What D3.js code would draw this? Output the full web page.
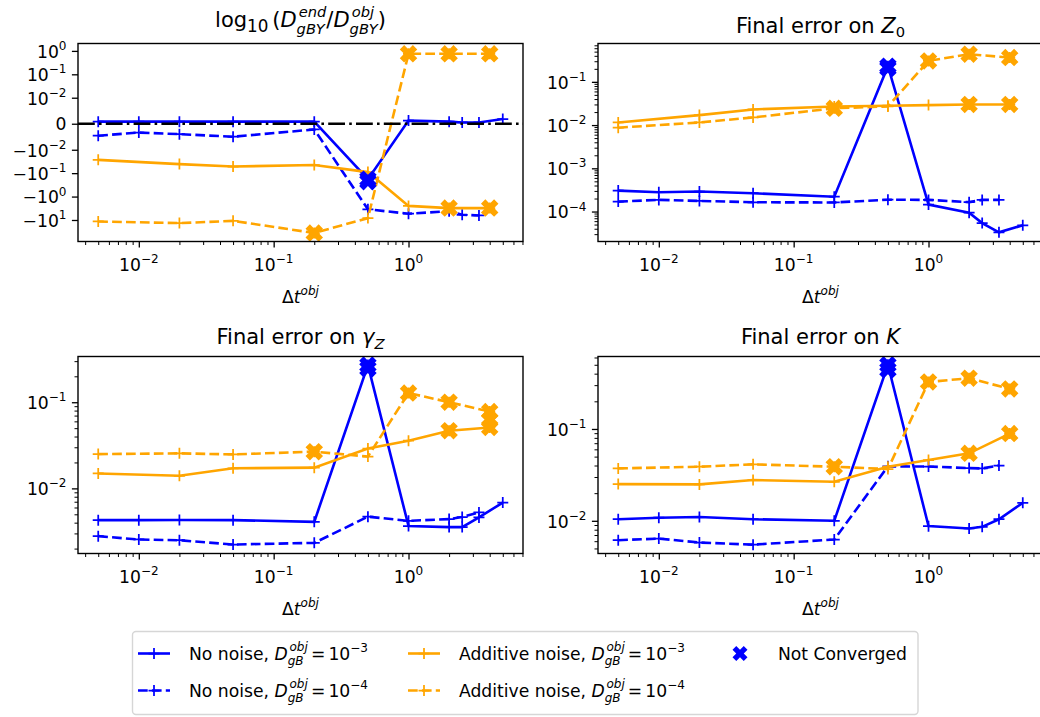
<!DOCTYPE html>
<html>
<head>
<meta charset="utf-8">
<script src="https://cdn.jsdelivr.net/npm/d3@7"></script>
<style>
  body { margin: 0; background: #fff; }
  svg { display: block; }
  text { font-family: "DejaVu Sans", sans-serif; fill: #000; white-space: pre; }
</style>
</head>
<body>
<svg id="chart" width="1040" height="717"></svg>
<script>
// ---- time steps of each run family ----
const dtNoNoise3   = [0.005, 0.01, 0.02, 0.05, 0.2, 0.5, 1, 2, 2.5, 3.33, 5];
const dtNoNoise4   = [0.005, 0.01, 0.02, 0.05, 0.2, 0.5, 1, 2, 2.5, 3.33];
const dtAdditive3  = [0.005, 0.02, 0.05, 0.2, 0.5, 1, 2, 4];
const dtAdditive4  = [0.005, 0.02, 0.05, 0.2, 0.5, 1, 2, 4];

// time steps at which the optimisation did not converge
const ncNoNoise3  = [0.5];
const ncNoNoise4  = [];
const ncAdditive3 = [2, 4];
const ncAdditive4 = [0.2, 1, 2, 4];

// ---- log10(D_end / D_obj) ----
const ratioNoNoise3  = [0.0008, 0.0008, 0.0008, 0.0008, 0.0008, -0.18, 0.0012, 0.0008, 0.0005, 0.0005, 0.0018];
const ratioNoNoise4  = [-0.0046, -0.0034, -0.004, -0.005, -0.0022, -3.5, -5.4, -4.2, -6.0, -6.4];
const ratioAdditive3 = [-0.027, -0.041, -0.052, -0.045, -0.09, -2.5, -3.1, -3.1];
const ratioAdditive4 = [-11.6, -13.6, -10.9, -36, -8.3, 0.75, 0.75, 0.75];
const ratioExtraNC   = [[0.5, -0.23, 0]];   // [dt, value, family]

// ---- final error on Z0 ----
const z0NoNoise3  = [3.05e-4, 2.8e-4, 2.9e-4, 2.65e-4, 2.2e-4, 0.23, 1.45e-4, 9.4e-5, 5.4e-5, 3.3e-5, 4.8e-5];
const z0NoNoise4  = [1.7e-4, 1.86e-4, 1.76e-4, 1.64e-4, 1.62e-4, 1.88e-4, 1.86e-4, 1.65e-4, 1.86e-4, 1.86e-4];
const z0Additive3 = [0.0115, 0.017, 0.023, 0.027, 0.028, 0.029, 0.030, 0.030];
const z0Additive4 = [0.0087, 0.0115, 0.015, 0.0245, 0.027, 0.305, 0.435, 0.365];
const z0ExtraNC   = [[0.5, 0.205, 0]];

// ---- final error on gamma_Z ----
const gammaNoNoise3  = [4.28e-3, 4.28e-3, 4.3e-3, 4.28e-3, 4.09e-3, 0.27, 3.65e-3, 3.55e-3, 3.55e-3, 4.6e-3, 6.85e-3];
const gammaNoNoise4  = [2.79e-3, 2.55e-3, 2.5e-3, 2.23e-3, 2.33e-3, 4.69e-3, 4.2e-3, 4.4e-3, 4.65e-3, 5.25e-3];
const gammaAdditive3 = [0.0149, 0.014, 0.0171, 0.0174, 0.029, 0.0358, 0.0467, 0.051];
const gammaAdditive4 = [0.025, 0.0255, 0.0248, 0.0267, 0.0234, 0.128, 0.1, 0.078];
const gammaExtraNC   = [[0.5, 0.245, 0], [4, 0.062, 2]];

// ---- final error on K ----
const kNoNoise3  = [0.0104, 0.0108, 0.011, 0.0104, 0.010, 0.50, 8.75e-3, 8.25e-3, 8.6e-3, 0.0104, 0.0157];
const kNoNoise4  = [6.15e-3, 6.4e-3, 5.8e-3, 5.5e-3, 6.25e-3, 0.0392, 0.039, 0.0375, 0.0372, 0.040];
const kAdditive3 = [0.0251, 0.0249, 0.0278, 0.0266, 0.0388, 0.0459, 0.0543, 0.089];
const kAdditive4 = [0.0372, 0.0388, 0.0412, 0.0388, 0.0366, 0.325, 0.357, 0.273];
const kExtraNC   = [[0.5, 0.44, 0]];

// ---- axis limits and ticks ----
const xLimits = [Math.pow(10, -2.451), Math.pow(10, 0.849)];
const xTicks = [0.01, 0.1, 1];
const ratioLimits = [-83, 2.07];
const ratioTicks = [1, 0.1, 0.01, 0, -0.01, -0.1, -1, -10];
const z0Limits = [Math.pow(10, -4.693), Math.pow(10, -0.113)];
const z0Ticks = [1e-1, 1e-2, 1e-3, 1e-4];
const gammaLimits = [Math.pow(10, -2.756), Math.pow(10, -0.469)];
const gammaTicks = [1e-1, 1e-2];
const kLimits = [Math.pow(10, -2.356), Math.pow(10, -0.211)];
const kTicks = [1e-1, 1e-2];

// ---- legend text ----
const familyNames = ['No noise', 'No noise', 'Additive noise', 'Additive noise'];
const familyExponents = ['−3', '−4', '−3', '−4'];
const notConvergedLabel = 'Not Converged';

// ---------------------------------------------------------------
const svg = d3.select('#chart');
const FS_TICK = 17.2, FS_TITLE = 21;
const LW = 2.6;
const colors = ['#0000ff', '#0000ff', '#ffa500', '#ffa500'];
const dashed = [false, true, false, true];
const DASH = '9.7,4.2';
const DASHDOT = '16.8,4.2,2.6,4.2';
const MAJOR = 6.1, MINOR = 3.5;

const families = [dtNoNoise3, dtNoNoise4, dtAdditive3, dtAdditive4];
const ncSets = [ncNoNoise3, ncNoNoise4, ncAdditive3, ncAdditive4];

// Lays out a small piece of math-style text: upright/italic runs,
// superscripts, subscripts and stacked super/subscripts.
function mathText(parent, x, y, pieces, fs, anchor) {
  const g = parent.append('g');
  let cx = 0;
  const put = (s, px, dy, size, it) => {
    const t = g.append('text')
      .attr('x', px).attr('y', dy)
      .attr('font-size', size)
      .attr('font-style', it ? 'italic' : 'normal')
      .text(s);
    return t.node().getComputedTextLength();
  };
  for (const p of pieces) {
    if (p.gap !== undefined) { cx += p.gap * fs; continue; }
    const hasSup = p.sup !== undefined, hasSub = p.sub !== undefined;
    if (hasSup || hasSub) {
      const k = (p.k || 0.7) * fs;
      let w = 0;
      if (hasSup) w = Math.max(w, (p.supShift || 0) * fs +
        put(p.sup, cx + (p.supShift || 0) * fs, -(hasSub ? 0.5 : 0.45) * fs, k, p.it));
      if (hasSub) w = Math.max(w, put(p.sub, cx, (p.subDy || (hasSup ? 0.3 : 0.22)) * fs, k, p.it));
      cx += w;
    } else {
      cx += put(p.t, cx, 0, fs, p.it);
    }
  }
  const shift = anchor === 'middle' ? -cx / 2 : anchor === 'end' ? -cx : 0;
  g.attr('transform', `translate(${x + shift},${y})`);
  return g;
}

function powLabel(v) {
  if (v === 0) return [{ t: '0' }];
  const e = Math.round(Math.log10(Math.abs(v)));
  const es = e < 0 ? '−' + (-e) : String(e);
  return [{ t: v < 0 ? '−10' : '10' }, { sup: es }];
}

// filled "X" marker outline (unit cross scaled to the marker size)
const xUnit = [[-1,-2],[0,-1],[1,-2],[2,-1],[1,0],[2,1],[1,2],[0,1],[-1,2],[-2,1],[-1,0],[-2,-1]];
function xMarkerPath(size) {
  const s = size / 4;
  return d3.line()(xUnit.map(([a, b]) => [a * s, b * s])) + 'Z';
}
const PLUS = 'M-5.5,0H5.5M0,-5.5V5.5';

// symmetric-log transform (linear threshold 1e-2)
const LINTHRESH = 0.01, LINSCALE_ADJ = 1 / (1 - 0.1);
const symT = v => Math.abs(v) <= LINTHRESH
  ? v / LINTHRESH * LINSCALE_ADJ
  : Math.sign(v) * (LINSCALE_ADJ + Math.log10(Math.abs(v) / LINTHRESH));

const colX = [[78, 523], [598, 1043]];
const rowY = [[43.5, 241.5], [356.5, 553.5]];

const panels = [
  { col: 0, row: 0, kind: 'symlog', limits: ratioLimits, ticks: ratioTicks,
    series: [ratioNoNoise3, ratioNoNoise4, ratioAdditive3, ratioAdditive4], extra: ratioExtraNC,
    zeroLine: true, titleY: 27.2,
    title: [{ t: 'log' }, { sub: '10', k: 0.8, subDy: 0.24 }, { gap: 0.18 }, { t: '(' }, { t: 'D', it: true },
            { sup: 'end', sub: 'gBY', it: true, supShift: 0.1 }, { t: '/' }, { t: 'D', it: true },
            { sup: 'obj', sub: 'gBY', it: true, supShift: 0.1 }, { t: ')' }] },
  { col: 1, row: 0, kind: 'log', limits: z0Limits, ticks: z0Ticks,
    series: [z0NoNoise3, z0NoNoise4, z0Additive3, z0Additive4], extra: z0ExtraNC, titleY: 32.7,
    title: [{ t: 'Final error on ' }, { t: 'Z', it: true }, { sub: '0' }] },
  { col: 0, row: 1, kind: 'log', limits: gammaLimits, ticks: gammaTicks,
    series: [gammaNoNoise3, gammaNoNoise4, gammaAdditive3, gammaAdditive4], extra: gammaExtraNC, titleY: 344.3,
    title: [{ t: 'Final error on ' }, { t: 'γ', it: true }, { sub: 'Z', it: true }] },
  { col: 1, row: 1, kind: 'log', limits: kLimits, ticks: kTicks,
    series: [kNoNoise3, kNoNoise4, kAdditive3, kAdditive4], extra: kExtraNC, titleY: 344.3,
    title: [{ t: 'Final error on ' }, { t: 'K', it: true }] }
];

function minorLogTicks(lim) {
  const out = [];
  const lo = Math.floor(Math.log10(lim[0])), hi = Math.ceil(Math.log10(lim[1]));
  for (let e = lo; e <= hi; e++)
    for (let m = 2; m <= 9; m++) {
      const v = m * Math.pow(10, e);
      if (v >= lim[0] && v <= lim[1]) out.push(v);
    }
  return out;
}

function styleAxis(g, width) {
  g.select('.domain').remove();
  g.selectAll('line').attr('stroke', '#000').attr('stroke-width', width);
  g.selectAll('text').remove();
}

panels.forEach((p, i) => {
  const [x0, x1] = colX[p.col];
  const [y0, y1] = rowY[p.row];
  const g = svg.append('g');
  const clipId = 'clip' + i;
  g.append('clipPath').attr('id', clipId)
    .append('rect').attr('x', x0).attr('y', y0).attr('width', x1 - x0).attr('height', y1 - y0);

  const x = d3.scaleLog().domain(xLimits).range([x0, x1]);
  let yAxisScale, y, yTickVals;
  if (p.kind === 'symlog') {
    yAxisScale = d3.scaleLinear().domain([symT(p.limits[0]), symT(p.limits[1])]).range([y1, y0]);
    y = v => yAxisScale(symT(v));
    yTickVals = p.ticks.map(symT);
  } else {
    yAxisScale = d3.scaleLog().domain(p.limits).range([y1, y0]);
    y = yAxisScale;
    yTickVals = p.ticks;
  }

  // x axis: major and minor ticks
  const xa = g.append('g').attr('transform', `translate(0,${y1})`)
    .call(d3.axisBottom(x).tickValues(xTicks).tickSizeInner(MAJOR).tickSizeOuter(0).tickFormat(() => ''));
  styleAxis(xa, 1.3);
  const xm = g.append('g').attr('transform', `translate(0,${y1})`)
    .call(d3.axisBottom(x).tickValues(minorLogTicks(xLimits)).tickSizeInner(MINOR).tickSizeOuter(0).tickFormat(() => ''));
  styleAxis(xm, 1);
  xTicks.forEach(t => mathText(g, x(t), y1 + 29.5, powLabel(t), FS_TICK, 'middle'));

  // y axis
  const ya = g.append('g').attr('transform', `translate(${x0},0)`)
    .call(d3.axisLeft(yAxisScale).tickValues(yTickVals).tickSizeInner(MAJOR).tickSizeOuter(0).tickFormat(() => ''));
  styleAxis(ya, 1.3);
  if (p.kind === 'log') {
    const ym = g.append('g').attr('transform', `translate(${x0},0)`)
      .call(d3.axisLeft(yAxisScale).tickValues(minorLogTicks(p.limits)).tickSizeInner(MINOR).tickSizeOuter(0).tickFormat(() => ''));
    styleAxis(ym, 1);
  }
  p.ticks.forEach(t => mathText(g, x0 - 11.5, y(t) + (t === 0 ? 6.3 : 6.8), powLabel(t), FS_TICK, 'end'));

  // data
  const plot = g.append('g').attr('clip-path', `url(#${clipId})`);
  const line = d3.line().x(d => x(d[0])).y(d => y(d[1]));
  p.series.forEach((vals, s) => {
    const pts = families[s].map((t, j) => [t, vals[j]]);
    plot.append('path').attr('d', line(pts))
      .attr('fill', 'none').attr('stroke', colors[s]).attr('stroke-width', LW)
      .attr('stroke-dasharray', dashed[s] ? DASH : null);
    plot.selectAll(null).data(pts).enter().append('path')
      .attr('d', PLUS).attr('transform', d => `translate(${x(d[0])},${y(d[1])})`)
      .attr('stroke', colors[s]).attr('stroke-width', 1.75).attr('fill', 'none');
  });
  if (p.zeroLine) {
    plot.append('line').attr('x1', x0).attr('x2', x1).attr('y1', y(0)).attr('y2', y(0))
      .attr('stroke', '#000').attr('stroke-width', LW).attr('stroke-dasharray', DASHDOT);
  }
  // non-converged runs
  const xm17 = xMarkerPath(17.5);
  p.series.forEach((vals, s) => {
    const pts = families[s].map((t, j) => [t, vals[j]]).filter(d => ncSets[s].includes(d[0]));
    plot.selectAll(null).data(pts).enter().append('path')
      .attr('d', xm17).attr('transform', d => `translate(${x(d[0])},${y(d[1])})`)
      .attr('fill', colors[s]);
  });
  plot.selectAll(null).data(p.extra).enter().append('path')
    .attr('d', xm17).attr('transform', d => `translate(${x(d[0])},${y(d[1])})`)
    .attr('fill', d => colors[d[2]]);

  // frame
  g.append('rect').attr('x', x0).attr('y', y0).attr('width', x1 - x0).attr('height', y1 - y0)
    .attr('fill', 'none').attr('stroke', '#000').attr('stroke-width', 1.4);

  // title and x label
  mathText(g, (x0 + x1) / 2, p.titleY, p.title, FS_TITLE, 'middle');
  mathText(g, (x0 + x1) / 2, y1 + 61, [{ t: 'Δ' }, { t: 't', it: true }, { sup: 'obj', it: true }], FS_TICK, 'middle');
});

// ---- legend ----
const lg = svg.append('g');
lg.append('rect').attr('x', 132.5).attr('y', 631.5).attr('width', 785.5).attr('height', 83)
  .attr('rx', 3.5).attr('fill', '#fff').attr('stroke', '#d6d6d6').attr('stroke-width', 1.4);
const legendCols = [138, 408];
const legendRows = [653.5, 690.5];
families.forEach((_, s) => {
  const hx = legendCols[Math.floor(s / 2)], hy = legendRows[s % 2];
  lg.append('line').attr('x1', hx).attr('x2', hx + 32).attr('y1', hy).attr('y2', hy)
    .attr('stroke', colors[s]).attr('stroke-width', LW).attr('stroke-dasharray', dashed[s] ? DASH : null);
  lg.append('path').attr('d', PLUS).attr('transform', `translate(${hx + 16},${hy})`)
    .attr('stroke', colors[s]).attr('stroke-width', 1.75).attr('fill', 'none');
  mathText(lg, hx + 51, hy + 6,
    [{ t: familyNames[s] + ', ' }, { t: 'D', it: true }, { sup: 'obj', sub: 'gB', it: true, supShift: 0.1 },
     { gap: 0.18 }, { t: '=' }, { gap: 0.18 }, { t: '10' }, { sup: familyExponents[s] }], FS_TICK, 'start');
});
lg.append('path').attr('d', xMarkerPath(15)).attr('transform', `translate(740,${legendRows[0]})`).attr('fill', colors[0]);
mathText(lg, 778, legendRows[0] + 6, [{ t: notConvergedLabel }], FS_TICK, 'start');
</script>
</body>
</html>
